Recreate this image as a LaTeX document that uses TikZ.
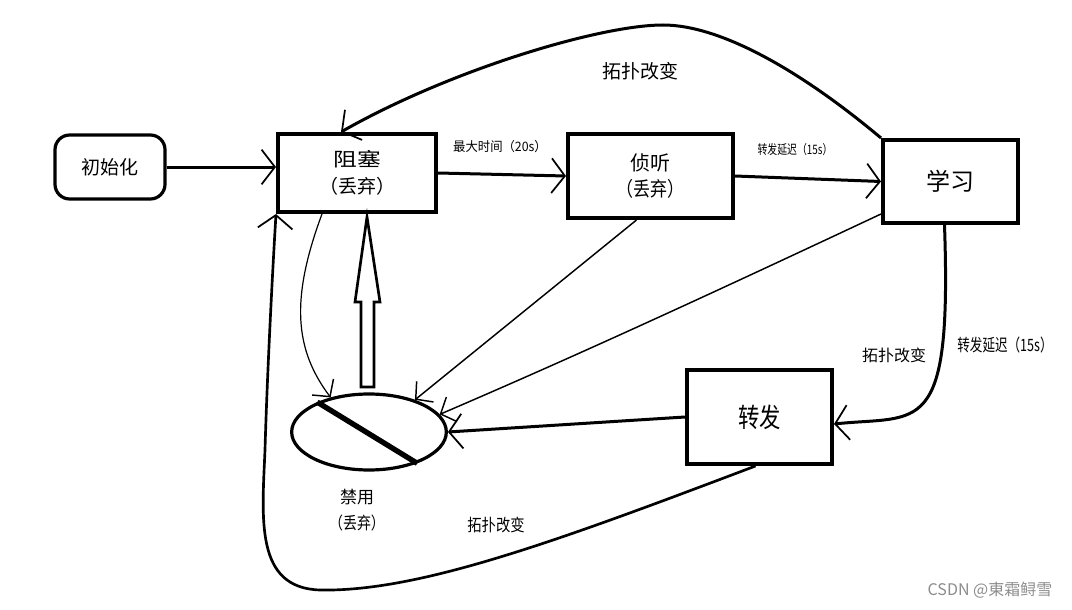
\documentclass[tikz,border=0pt]{standalone}
\usepackage{fontspec}
\setmainfont{Noto Sans CJK SC}
\usetikzlibrary{arrows.meta,shapes.geometric}
\definecolor{wmgray}{RGB}{140,140,140}
\begin{document}
\begin{tikzpicture}[x=0.75pt,y=-0.75pt,
  box/.style={draw,line width=3pt,inner sep=0pt,align=center},
  thickc/.style={line width=2.25pt,-{Straight Barb[length=10pt,width=26pt,line width=1.3pt 0]}},
  thinc/.style={line width=1.1pt,-{Straight Barb[length=9pt,width=20pt,line width=1.1pt 0]}},
  lbl/.style={inner sep=0pt,align=center}]
\useasboundingbox (0,0) rectangle (1072,610);

% nodes
\node[box,rounded corners=11pt,line width=2.4pt,minimum width=82.5pt,minimum height=48pt,
  font=\fontsize{14.25pt}{17pt}\selectfont] (init) at (110,167) {初始化};
\node[box,minimum width=118.5pt,minimum height=58.5pt,
  font=\fontsize{14.25pt}{20pt}\selectfont] (block) at (357,173) {\scalebox{1.25}[1]{阻塞}\\（丢弃）};
\node[box,minimum width=123.75pt,minimum height=63pt,
  font=\fontsize{15pt}{19pt}\selectfont] (listen) at (650.5,176) {侦听\\\scalebox{0.85}[1]{（丢弃）}};
\node[box,minimum width=101.25pt,minimum height=62.25pt,
  font=\fontsize{18pt}{20pt}\selectfont] (learn) at (950.5,181.5) {学习};
\node[box,minimum width=108.75pt,minimum height=70.5pt,
  font=\fontsize{20pt}{22pt}\selectfont] (fwd) at (759.5,417) {\scalebox{0.8}[1]{转发}};
\node[draw,ellipse,line width=2.4pt,minimum width=116pt,minimum height=57pt,inner sep=0pt] (dis) at (369,432) {};
\draw[line width=4pt] (dis.150) -- (dis.-33);

% labels
\node[lbl,font=\fontsize{12.75pt}{20pt}\selectfont] (disl) at (357,510) {禁用\\\scalebox{0.82}[1]{（丢弃）}};
\node[lbl,font=\fontsize{14.25pt}{17pt}\selectfont] (ltop) at (640,71) {拓扑改变};
\node[lbl,font=\fontsize{9.75pt}{12pt}\selectfont] (lmax) at (500,147) {\scalebox{0.95}[1]{最大时间（20s）}};
\node[lbl,font=\fontsize{9.75pt}{12pt}\selectfont] (lfd1) at (795,150) {\scalebox{0.76}[1]{转发延迟（15s）}};
\node[lbl,font=\fontsize{12.75pt}{15pt}\selectfont] (lfd2) at (1005,345) {\scalebox{0.74}[1]{转发延迟（15s）}};
\node[lbl,font=\fontsize{12pt}{14pt}\selectfont] (ltr) at (894,355) {拓扑改变};
\node[lbl,font=\fontsize{12.75pt}{15pt}\selectfont] (lbot) at (496,525) {\scalebox{0.84}[1]{拓扑改变}};
\node[lbl,font=\fontsize{12pt}{14pt}\selectfont,text=wmgray] (wm) at (990,590) {CSDN @東霜鲟雪};

% connectors
\draw[thickc] (init.east) -- (init.east -| block.west);
\draw[thickc] (block.east) -- (listen.west);
\draw[thickc] (listen.east) -- (learn.west);
\coordinate (peak) at (663,25);
\draw[thickc] (learn.north west) .. controls (800,70) and (720,25) .. (peak)
  .. controls (600,25) and (450,70) .. ([shift={(65,0)}]block.north west);
\draw[thickc] ([shift={(-6,0)}]learn.south) .. controls (952,440) and (920,415) .. ([shift={(0,7)}]fwd.east);
\draw[thickc] (fwd.west) -- (dis.east);
\draw[thinc] ([shift={(-14,0)}]listen.south) -- (dis.35);
\draw[thinc] ([shift={(0,-11)}]learn.south west) .. controls (736,282) and (590,350) .. (dis.14);
\draw[thinc,line width=0.9pt] ([shift={(46,0)}]block.south west) .. controls (290,300) and (295,350) .. (dis.138);
\draw[line width=2pt] (361,387) -- (361,302) -- (355,302) -- (367,217) -- (380,302) -- (374,302) -- (374,387) -- cycle;
\draw[thickc,line width=2pt] ([shift={(-4,0)}]fwd.south) .. controls (560,540) and (420,592) .. (320,590)
  .. controls (255,588) and (262,520) .. (265,450) .. controls (267,380) and (272,280) .. (block.south west);
\end{tikzpicture}
\end{document}
